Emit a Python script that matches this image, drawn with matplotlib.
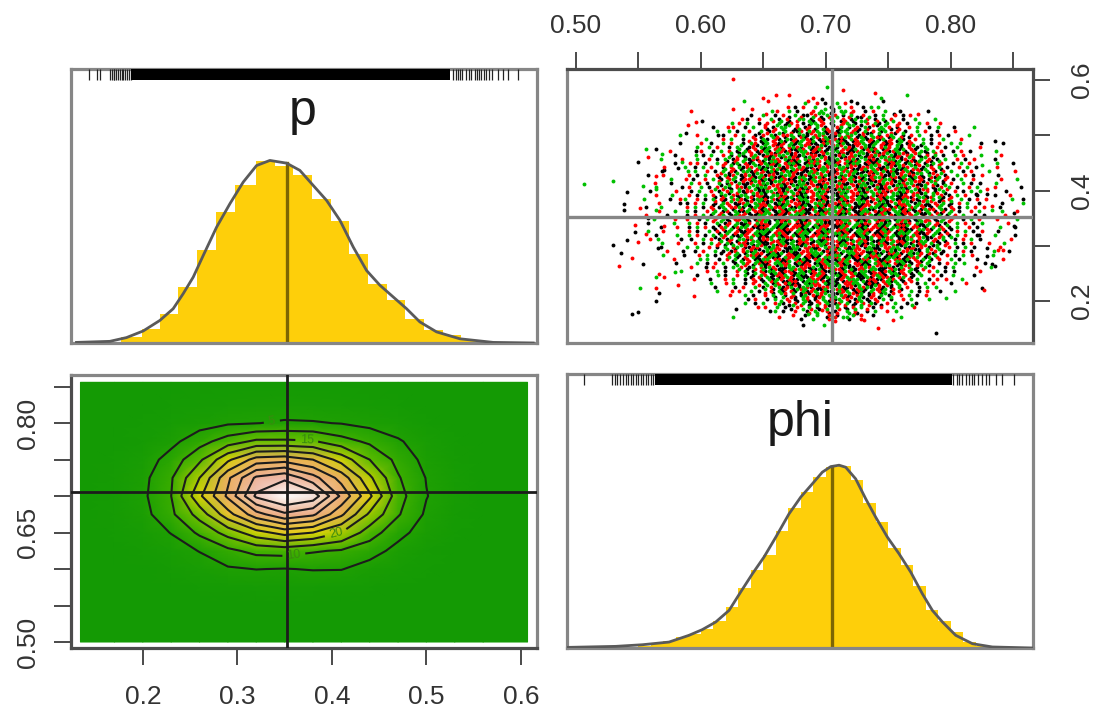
import matplotlib
matplotlib.use("Agg")
import matplotlib.pyplot as plt
from matplotlib.colors import LinearSegmentedColormap

plt.rcParams["font.family"] = ["Liberation Sans", "DejaVu Sans"]

# histogram + density of p
p_edges = [.1774, .1986, .218, .2374, .2575, .2772, .2974, .3196, .3393, .3591, .3788, .3986, .4183, .4381, .4579, .4776, .4974, .5171, .5369, .5566]
p_hist = [.2, .48, .97, 1.86, 3.1, 4.35, 5.24, 6.04, 5.9, 5.57, 4.8, 4.07, 2.95, 1.97, 1.42, .81, .44, .25, .09]
p_kde_x = [.1298, .1651, .1827, .2004, .218, .2321, .2427, .2533, .2639, .278, .2921, .3062, .3203, .3344, .352, .3661, .3802, .3944, .4085, .4226, .4367, .4508, .4649, .479, .4931, .5107, .5354, .5707, .613]
p_kde_y = [.02, .055, .18, .40, .75, 1.14, 1.64, 2.19, 2.91, 3.85, 4.63, 5.35, 5.9, 6.07, 5.98, 5.74, 5.24, 4.74, 4.08, 3.19, 2.41, 1.92, 1.53, 1.14, .70, .37, .14, .02, 0]
p_rug = [.143, .151, .1545, .165, .167, .169, .170, .172, .174, .176, .178, .179, .181, .183, .185, .187, .528, .531, .533, .536, .538, .542, .545, .547, .551, .554, .556, .558, .561, .563, .566, .569, .5757, .581, .586, .597]
p_rug_solid = [.188, .525]
p_mean = .352
p_peak = 6.0

# histogram + density of phi
phi_edges = [.55, .56, .57, .58, .59, .60, .61, .62, .63, .64, .65, .66, .67, .68, .69, .70, .71, .72, .73, .74, .75, .76, .77, .78, .79, .80, .81, .82, .83]
phi_hist = [.1, .2, .34, .54, .7, .94, 1.3, 2.0, 2.95, 3.8, 4.55, 5.7, 6.85, 7.65, 8.35, 8.85, 8.92, 8.24, 7.1, 6.16, 4.89, 4.07, 3.03, 1.87, 1.3, .78, .29, .1]
phi_kde_x = [.493, .5318, .5532, .5745, .5905, .6012, .6119, .6226, .6319, .6413, .6506, .66, .6706, .68, .6893, .6973, .704, .7107, .716, .724, .732, .74, .7494, .7587, .7681, .7774, .7854, .7935, .8041, .8175, .8335, .8655]
phi_kde_y = [.03, .08, .16, .29, .62, .9, 1.27, 1.84, 2.74, 3.63, 4.45, 5.42, 6.56, 7.38, 8.03, 8.6, 8.87, 8.94, 8.84, 8.27, 7.3, 6.4, 5.42, 4.61, 3.71, 2.65, 1.84, 1.27, .62, .21, .05, 0]
phi_rug = [.5064, .529, .531, .533, .535, .538, .540, .542, .544, .546, .548, .550, .552, .554, .556, .558, .560, .562, .802, .805, .807, .809, .812, .815, .817, .819, .822, .825, .828, .831, .8365, .841, .851]
phi_rug_solid = [.563, .801]
phi_mean = .705
phi_peak = 8.85

# joint density (contour panel)
grid_p = [.134, .17, .20, .23, .26, .29, .32, .35, .38, .41, .44, .47, .50, .53, .56, .607]
grid_phi = [.50, .55, .575, .60, .625, .65, .675, .70, .725, .75, .775, .80, .825, .856]
grid_z = [
    [0, 0, 0, 0, 0, 0, 0, 0, 0, 0, 0, 0, 0, 0, 0, 0],
    [0, 0, 0, 0, 0, 0, 0, 0, 0, 0, 0, 0, 0, 0, 0, 0],
    [0, 0, .1, .3, .5, .8, 1, 1.1, 1, .8, .5, .3, .1, 0, 0, 0],
    [0, .1, .4, 1, 2.4, 4.4, 5.1, 4.8, 5.3, 5.2, 3, 1.4, .5, .1, 0, 0],
    [0, .3, 1, 2.6, 5.2, 8.8, 11.5, 12, 10.5, 9.5, 7, 3.5, 1.3, .4, 0, 0],
    [0, .7, 2.1, 5.2, 11, 17, 23, 27, 25, 20, 12.5, 6.5, 2.8, .8, .2, 0],
    [0, 1, 3.2, 9, 17, 28, 38, 44, 41, 31, 19, 10.5, 4.2, 1.2, .3, 0],
    [0, 1.2, 4, 10, 24, 36, 51, 56, 53, 39, 26, 12, 5.2, 1.8, .4, 0],
    [0, 1, 3.6, 9.5, 20, 34, 46, 49, 42, 33, 21, 10.5, 4.8, 1.4, .3, 0],
    [0, .7, 2.4, 7, 14, 24, 32, 33, 30, 23, 15, 8.5, 3.4, 1, .2, 0],
    [0, .4, 1.2, 3.6, 8, 12.5, 16, 16, 15.5, 12, 9, 5.6, 2.4, .5, 0, 0],
    [0, .2, .6, 1.4, 3, 4.4, 4.9, 5.6, 5.4, 4.8, 3.5, 2.2, .8, .2, 0, 0],
    [0, 0, .2, .5, 1, 1.5, 2, 2.2, 2, 1.5, 1, .5, .2, 0, 0, 0],
    [0, 0, 0, 0, 0, 0, 0, 0, 0, 0, 0, 0, 0, 0, 0, 0],
]
contour_levels = [5, 10, 15, 20, 25, 30, 35, 40, 45, 50]
contour_label_at = [(.3365, .802), (.3735, .7776), (.36, .617), (.405, .645)]

# scatter panel: stray points
black_phi = [.5494, .5644, .5409, .5385, .5385, .5299, .5363, .5537, .5451, .5494, .5644, .5665, .6284, .6818, .7886, .7822, .8356, .842, .8509, .8509, .8335, .8356, .825, .6968, .7203, .7459, .7545, .5708, .5815, .558, .5473, .5409, .5654, .6012, .5879, .8295, .8202, .8228, .8295, .8295]
black_p = [.4514, .4755, .3982, .3765, .3644, .3016, .2871, .2678, .1759, .1802, .2001, .2146, .1856, .156, .1421, .5432, .49, .4852, .3596, .3354, .2678, .2629, .2243, .5649, .5613, .5625, .5384, .4369, .4399, .3511, .3251, .3112, .2967, .5263, .5045, .3946, .3946, .3191, .2967, .2823]
red_phi = [.626, .7139, .7395, .6605, .6709, .6498, .6541, .6901, .6861, .626, .6413, .5921, .6519, .7737, .59, .5964, .558, .5644, .5515, .5473, .5708, .5558, .5494, .5451, .5345, .5644, .5708, .5665, .5943, .5815, .6626, .7307, .7417, .7542, .8378, .842, .8271, .8292, .8335, .7224, .6968]
red_p = [.6012, .5818, .577, .5722, .5722, .5673, .5625, .5673, .5625, .548, .548, .5432, .5384, .5384, .519, .5239, .461, .4272, .3692, .3372, .3354, .3209, .3064, .2774, .2629, .2243, .2436, .2484, .2098, .2291, .1711, .1663, .1518, .1663, .2919, .2919, .2194, .403, .3729, .1772, .1832]
green_phi = [.5064, .5299, .5558, .5686, .5537, .5644, .5644, .5654, .5515, .5644, .5793, .626, .6989, .7053, .7139, .7606, .7013, .7649, .6348, .744, .686, .8185, .825, .8335, .7961, .5836, .5847, .6626, .7694]
green_p = [.4127, .4175, .4755, .4659, .4079, .403, .3644, .3131, .2243, .2436, .2533, .1711, .156, .1711, .1711, .1711, .5867, .5722, .5625, .5667, .1759, .5142, .4466, .3644, .2049, .4997, .4514, .1953, .1923]

# body of the cloud, row by row from the top, each row centred on phi_centre
# k black, r red, g green, space empty
cloud_rows = [
    "g  r k  g r  k",
    "k r  g   k g  r  k g",
    "r  g k   r g  k gg r  k r  g",
    "g  k r  g kk r  g r k g  r  k g  r k",
    "k  r  g k r  gg k rk g  r kg  r k g r  k  g",
    "r g  k r  g kr  k gg r k  rg k  r gk g  r k  g r",
    "r  k g  r k gg  r kr g k  rg k r gk  g r k  r g  k",
    "g k  r  g kr  g kkr grg kr kgg rk g r kg  r k  g r  k",
    "k  r g  k r gk rrg kgk rgr kkg rg kr g k rg  k r g  k r",
    "r g  k  r gk rk gkr grk krg rkk gr gkr kg r gk  r g k  g",
    "k  g r  k gr kg rkr gkg rkk rgr kgk rrg kg rkr g kr  g k r  g",
    "g r  k g  kr gkg rk rgrk gkrr kgk grk rgkk rgr gk r k g  r k  g",
    "r  k g r k gr krgk grkr kgg rkrk ggr kkrg rkg rkrg k r gk g r  k r",
    "k g  r k gk rg krkrgg krkg rrkk gkrg rgk krgrk gkr rg k r g k  g r",
    "g  r k g kr gkrk gkrr gkkr grkg rkkg rrgk gkrk rgg kr k g r k g  r k",
    "r k  g r kg rkg rgkrk rggk krrg kgkr rkgg krkr gkrg kg r k g r  k g r",
    "k g r  k r gkrr gkkg rkrg grkk rgrk ggkr krrg kkgr gkr g k r g k  r g",
    "g  r k g rk ggkr rkgk rgkr kkgr grkk rgrg kkrg gkrk rgk r g k r g  k r",
    "r k g  r gkr krgk gkrr kggr krkg rgkr kgrk ggkr rkkg rgkr k g r k  g r k",
    "k  r g k rg krrg kgkr grkk rgkg rrkg krgr kgkr rggk krgk r k g r k g  r",
    "g r k  g kr gkkr rggk rkrk ggkr krrg gkkr rgkg kgrr krgg k r g k r  g k",
    "r  g k r gk rrkg kggr rkkr gkgr rkgk rrgg kkrk gkrg rkkg r g k r g k  r g",
    "k g  r k rg gkrr kkgg rkrg kgrr kgkk rggr kkrg grkr kgrg k r k g  r k g",
    "r k g r kg rkgg krrk ggkr rkkg rgrk gkrg rkkg gkrr gkkr rg k g r k g r  k",
    "g  r k g rk rgrk kggr rkgk krgg rkkr gkgr rgkk rgrk gkkg rk r g k r  g k r",
    "k r g  k gr kkrg grrk kgkg rrkk ggrk rkgr kgkr rgkk grrg kg k r g k r g  k",
    "r g k r kg rrgk kgrk grrg kkgr kgkr rggk rkkr ggkr krgk rg r k g  r k g r",
    "g k  r g kr gkkg rrkg kgrk rrgk gkkr grgr kkgg rkrk ggrk kr g k r g k  r g",
    "k r g k rg kgrr kkgg rkrk ggkr rkkg rgkg rrkk gkgr rkgk rg k r g k r g  k",
    "r  k g r gk rrgk kgrg kkrr gkgk rgrr kkgg rkkr gkrg kgrr kg r k g r  k g r",
    "g r k  g kr gkkr grrk gkgr kkrg rgkk rrkg gkrr kgkg rkkr gk g r k  g r k",
    "k g r k rg krgg kkrr gkgk rrkg kgrr kkgr gkkg rrkr ggkk rr k g r k g  r k",
    "r k  g r kg rkkr gggk rrkk grgk rkgg rkrk ggrk krgr kgkg rk r g k  r g k",
    "g r k g gr kkgr rgkk grkr gkgk rrgg kkrg rkgk rrkg gkrk gr k g r k g r  k",
    "k  g r k kr ggkr krrg kgkk rgrg kkrr gkgk rrkg kgrr kkgg r k r g  k r g",
    "r k g r gk rrkg gkkr rgkg rkrk ggrk kgrr gkkg rrkg krgk rg g k r g k r",
    "g  r k g rg kkrr gkgr kkgg rrkk grgk rkgr kgkk rrgg kkr r k g  r k g",
    "k r  g k kr rgkg kgrr kkgk rrgg krkk gggr rkkr gkgk rrg k g r k  g r k",
    "r g k  r gk grrk kggk rrkg rkgk rrgg kkrk grrg kkgr kg r k g  r k g",
    "g  k r g kr kkgg rrkr gkgk rgrk kgrg kkrr gkkg rrkg r g k r  g k",
    "k r g  k gr grkk ggrr kgkr kkrg grkg rrkk grgk rkg k r g  k r g",
    "r  k g r kg rkgr kkgg rrkg krrg kgkk rgrg kkrk g r k g r  k g",
    "g k  r g k rkgg krrk gkgr rkkg rgrk ggkr krgk r g k  r g k",
    "k  r g k gr krrg kgkk rgrk ggkr rkkg rgrk kg r k g  r k",
    "r g  k r k gkgr rkkg grrk kgkr gggk rrkk gr k r g  k r",
    "g  k r  g kr rgkk gkrr gkgk rrgg krkk rg g r  k g r",
    "k r  g k r gkrg kgrk krrg gkkr grgk rk k g r  k g",
    "r  g k  r gk rk gkrg rkk grg krk g rg k r  g k r",
    "g k  r g  k r kg rkr gk grk rg kr g k  r g k",
    "r  k g  r k gr k g rkg r kg k r g k  r g",
    "k g  r k  r g k r g kr g k r gk  r g  k",
    "r  g k  r  g k r  g k r g  k r  g k",
    "g k  r  k g  r k  g r  k g  r",
    "r  k  g  r k   g r  k",
    "k  g   r    k  r",
]
# thin fringe either side of each row above, same order
cloud_left = [
    "", "r", " g", "k ", "  r", " g", "k  r", "  g ", "r   k", "  g  ", "k   r ", "   g ", "r    k", "  k   g", "g   r  ", "    k  r",
    "r   g ", "  k    g", "k  r    ", "    g  r", "r  k   ", "  g    k", "k    r  ", "  r  g  ", "g    k r", "   r   k", "k  g    ", "   r  g ", "r   k   ", "  g   r ",
    "k    g  ", "   k  r ", "g  r    ", "  k   g ", "r     k ", "  g  r  ", "k    g ", "   r  k ", "g   k  ", "  r    g", "k   g ", "   r  k", "g    r ", " k   g", "r  k  ",
    "  g  r", "k   ", " g  r", "r  ", "  k", "g ", " r", "k", "", "",
]
cloud_right = [
    "", "g", " k", "r ", "  g", " r", "g  k", "  r ", "k   g", "  r  ", "g   k ", "   r ", "k    g", "  g   r", "r   k  ", "    g  k",
    "k   r ", "  g    r", "r  k    ", "    r  g", "k  g   ", "  r    k", "g    k  ", "  k  r  ", "r    g k", "   k   g", "r  k    ", "   g  r ", "k   r   ", "  r   g ",
    "g    r  ", "   g  k ", "r  k    ", "  g   k ", "k     r ", "  r  g  ", "k    r ", "   g  k ", "r   g  ", "  k    r", "g   k ", "   r  g", "k    r ", " g   k", "r  g  ",
    "  k  r", "g   ", " k  g", "r  ", "  g", "k ", " r", "g", "", "",
]
cloud_first_p = .5585
cloud_row_step = .00725
cloud_col_step = .0032
phi_centre = .706

# panel boxes in pixels: left, right, top, bottom
W, H = 1094, 711
box_tl = (71, 537, 69, 343)
box_tr = (567, 1033, 69, 343)
box_bl = (71, 537, 375, 648)
box_br = (567, 1033, 374, 648)
FRAME = "#868686"
AXIS = "#4c4c4c"
TICK = "#4a4a4a"
LABEL = "#333333"


def make_axes(fig, box):
    left, right, top, bottom = box
    ax = fig.add_axes([left / W, 1 - bottom / H, (right - left) / W, (bottom - top) / H])
    for s in ax.spines.values():
        s.set_color(FRAME)
        s.set_linewidth(2.3)
    ax.set_xticks([])
    ax.set_yticks([])
    return ax


def draw_diagonal(ax, xlim, ymax, edges, heights, kde_x, kde_y, rug, rug_solid, mean, peak, name, frac_x, frac_y):
    ax.stairs(heights, edges, fill=True, color="#FECF0A", zorder=1)
    ax.plot([mean, mean], [0, peak], color="#7d6503", lw=2.4, zorder=2)
    ax.plot(kde_x, kde_y, color="#5a5a5a", lw=2.0, zorder=3)
    ax.vlines(rug, .96, 1, color="#222222", lw=.9, transform=ax.get_xaxis_transform(), zorder=4)
    ax.fill_between(rug_solid, .96, 1, color="black", lw=0, transform=ax.get_xaxis_transform(), zorder=4)
    ax.set_xlim(xlim)
    ax.set_ylim(0, ymax)
    ax.text(frac_x, frac_y, name, transform=ax.transAxes, ha="center", va="baseline", fontsize=36, color="#1a1a1a")


fig = plt.figure(figsize=(W / 100, H / 100), dpi=100)

p_lim = (.124, .617)
phi_lim = (.4928, .866)

# top left, p
ax = make_axes(fig, box_tl)
draw_diagonal(ax, p_lim, 9.11, p_edges, p_hist, p_kde_x, p_kde_y, p_rug, p_rug_solid, p_mean, p_peak, "p", .498, .796)

# bottom right, phi
ax = make_axes(fig, box_br)
draw_diagonal(ax, phi_lim, 13.4, phi_edges, phi_hist, phi_kde_x, phi_kde_y, phi_rug, phi_rug_solid, phi_mean, phi_peak, "phi", .5, .775)

# top right, scatter
ax = make_axes(fig, box_tr)
for colour, ch, stray_phi, stray_p in (("black", "k", black_phi, black_p), ("#ff0000", "r", red_phi, red_p), ("#00c000", "g", green_phi, green_p)):
    xs, ys = list(stray_phi), list(stray_p)
    for i, row in enumerate(cloud_rows):
        y = cloud_first_p - i * cloud_row_step
        half = len(row) / 2
        for j, c in enumerate(row):
            if c == ch:
                xs.append(phi_centre + (j - half + .5 * (i % 2)) * cloud_col_step)
                ys.append(y)
        # the inner part is denser: second pass between the rows
        inner = row[::-1][6:-6]
        for j, c in enumerate(inner):
            if c == ch:
                xs.append(phi_centre + (j - len(inner) / 2 + .5 * ((i + 1) % 2)) * cloud_col_step)
                ys.append(y - cloud_row_step / 2)
        for j, c in enumerate(cloud_left[i]):
            if c == ch:
                xs.append(phi_centre - half * cloud_col_step - (len(cloud_left[i]) - j) * cloud_col_step * 1.3)
                ys.append(y)
        for j, c in enumerate(cloud_right[i]):
            if c == ch:
                xs.append(phi_centre + half * cloud_col_step + (j + 1) * cloud_col_step * 1.3)
                ys.append(y)
    ax.plot(xs, ys, "o", color=colour, ms=2.8, mew=0, zorder=2)
ax.axvline(phi_mean, color=FRAME, lw=2.4, zorder=3)
ax.axhline(p_mean, color=FRAME, lw=2.4, zorder=3)
ax.set_xlim(phi_lim)
ax.set_ylim(.124, .62)
ax.xaxis.tick_top()
ax.yaxis.tick_right()
ax.set_xticks([.50, .55, .60, .65, .70, .75, .80, .85], ["0.50", "", "0.60", "", "0.70", "", "0.80", ""])
ax.set_yticks([.2, .3, .4, .5, .6], ["0.2", "", "0.4", "", "0.6"])
ax.tick_params(axis="both", length=12.5, width=1.4, color=TICK, labelcolor=LABEL, labelsize=19, pad=10)
ax.tick_params(axis="y", labelrotation=90, pad=14)
ax.spines["top"].set_color(AXIS)
ax.spines["right"].set_color(AXIS)
for t in ax.get_yticklabels():
    t.set_va("center")

# bottom left, joint density
ax = make_axes(fig, box_bl)
terrain = LinearSegmentedColormap.from_list("terrain_like", [(0, "#149a04"), (.09, "#1fa003"), (.18, "#3aae00"), (.27, "#5cbc00"), (.36, "#b0cc00"), (.45, "#e6d40a"), (.55, "#eab24c"), (.72, "#ecaa80"), (.85, "#eeb4a0"), (.91, "#f0c4b8"), (.96, "#f6f0ee"), (1, "#ffffff")])
ax.pcolormesh(grid_p, grid_phi, grid_z, shading="gouraud", cmap=terrain, vmin=0, vmax=56, zorder=1)
cs = ax.contour(grid_p, grid_phi, grid_z, levels=contour_levels, colors="#1c1c1c", linewidths=1.5, zorder=2)
ax.clabel(cs, manual=contour_label_at, fontsize=9, colors="#3a8a10", fmt="%d")
ax.axvline(p_mean, color="#1c1c1c", lw=2.0, zorder=3)
ax.axhline(phi_mean, color="#1c1c1c", lw=2.0, zorder=3)
ax.set_xlim(p_lim)
ax.set_ylim(.4918, .866)
ax.set_xticks([.2, .3, .4, .5, .6], ["0.2", "0.3", "0.4", "0.5", "0.6"])
ax.set_yticks([.50, .55, .60, .65, .70, .75, .80, .85], ["0.50", "", "", "0.65", "", "", "0.80", ""])
ax.tick_params(axis="both", length=12.5, width=1.4, color=TICK, labelcolor=LABEL, labelsize=19, pad=14)
ax.tick_params(axis="y", labelrotation=90, pad=10)
ax.spines["left"].set_color(AXIS)
ax.spines["bottom"].set_color(AXIS)
for t in ax.get_yticklabels():
    t.set_va("center")

plt.savefig("out.png", dpi=100)
